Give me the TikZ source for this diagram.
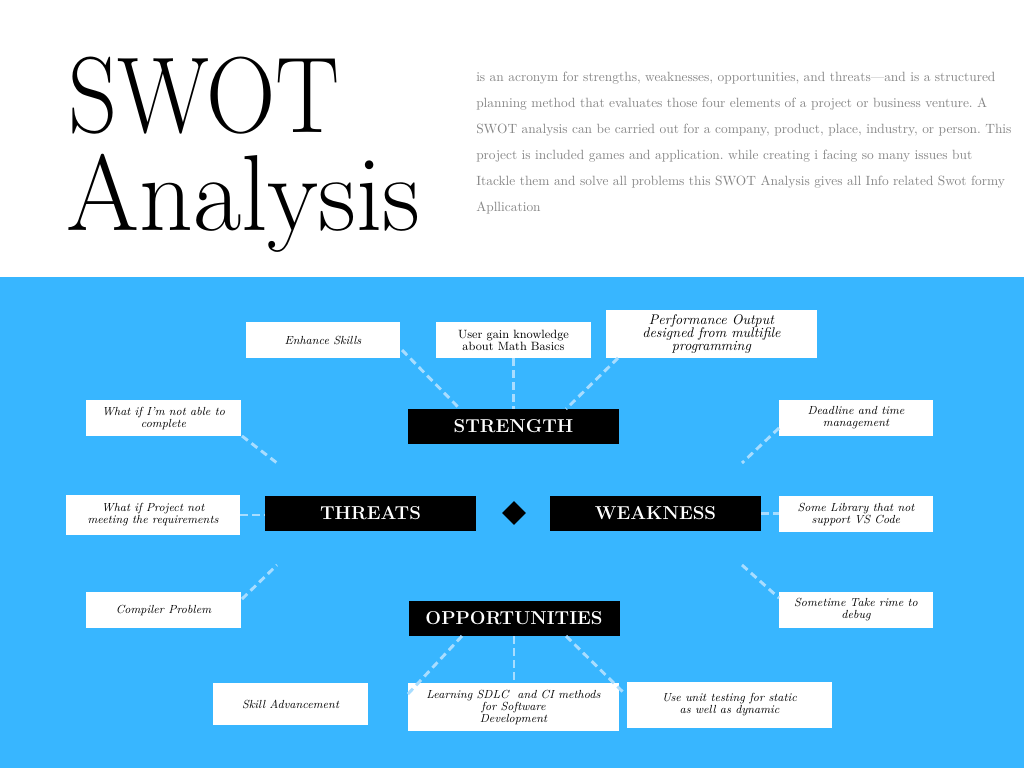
\documentclass[tikz,border=0pt]{standalone}
\usetikzlibrary{shapes.geometric}
\definecolor{skyblue}{HTML}{38B6FF}
\definecolor{dashblue}{HTML}{A8DDFF}
\definecolor{descgray}{HTML}{858585}
\begin{document}
\begin{tikzpicture}[x=0.75pt,y=-0.75pt,
  blackbox/.style={fill=black,text=white,inner sep=0pt,minimum width={211*0.75pt},minimum height={35*0.75pt},font=\bfseries\fontsize{14pt}{14pt}\selectfont},
  whitebox/.style={fill=white,inner sep=0pt,align=center,font=\itshape\fontsize{8.8pt}{9pt}\selectfont},
  conn/.style={draw=dashblue,line width=2.2pt,dash pattern=on 5.5pt off 3.5pt}]
\useasboundingbox (0,0) rectangle (1024,768);
\fill[white] (0,0) rectangle (1024,277);
\fill[skyblue] (0,277) rectangle (1024,768);

% title
\node[anchor=base west,inner sep=0pt] (t_swot) at (68,132) {\fontsize{81pt}{81pt}\selectfont\scalebox{0.89}[1]{SWOT}};
\node[anchor=base west,inner sep=0pt] (t_anal) at (66,230) {\fontsize{81pt}{81pt}\selectfont\scalebox{0.975}[1]{Analysis}};

% description
\node[anchor=north west,inner sep=0pt,align=left,text=descgray,font=\frenchspacing\fontsize{10.05pt}{19.5pt}\selectfont] (desc) at (476,72) {%
is an acronym for strengths, weaknesses, opportunities, and threats---and is a structured\\
planning method that evaluates those four elements of a project or business venture. A\\
SWOT analysis can be carried out for a company, product, place, industry, or person. This\\
project is included games and application. while creating i facing so many issues but\\
Itackle them and solve all problems this SWOT Analysis gives all Info related Swot formy\\
Apllication};

% main boxes
\node[blackbox] (st) at (513.5,426.5) {STRENGTH};
\node[blackbox] (th) at (370.5,513.5) {THREATS};
\node[blackbox] (wk) at (655.5,513.5) {WEAKNESS};
\node[blackbox] (op) at (514,618.5) {OPPORTUNITIES};
\node[diamond,fill=black,inner sep=0pt,minimum size={24*0.75pt}] (dm) at (514,513) {};

% white boxes
\node[whitebox,minimum width={154*0.75pt},minimum height={36*0.75pt}] (es) at (323,340) {Enhance Skills};
\node[whitebox,minimum width={155*0.75pt},minimum height={36*0.75pt},font=\fontsize{9pt}{9pt}\selectfont] (ug) at (513.5,340) {User gain knowledge\\about Math Basics};
\node[whitebox,minimum width={211*0.75pt},minimum height={48*0.75pt},font=\itshape\fontsize{10.5pt}{10pt}\selectfont] (po) at (711.5,334) {Performance Output\\designed from multifile\\programming};
\node[whitebox,minimum width={155*0.75pt},minimum height={36*0.75pt}] (t1) at (163.5,418) {What if I'm not able to\\complete};
\node[whitebox,minimum width={174*0.75pt},minimum height={40*0.75pt}] (t2) at (153,515) {What if Project not\\meeting the requirements};
\node[whitebox,minimum width={155*0.75pt},minimum height={36*0.75pt}] (t3) at (163.5,610) {Compiler Problem};
\node[whitebox,minimum width={154*0.75pt},minimum height={36*0.75pt}] (w1) at (856,418) {Deadline and time\\management};
\node[whitebox,minimum width={154*0.75pt},minimum height={36*0.75pt}] (w2) at (856,514) {Some Library that not\\support VS Code};
\node[whitebox,minimum width={154*0.75pt},minimum height={36*0.75pt}] (w3) at (856,610) {Sometime Take rime to\\debug};
\node[whitebox,minimum width={155*0.75pt},minimum height={42*0.75pt}] (o1) at (290.5,704) {Skill Advancement};
\node[whitebox,minimum width={211*0.75pt},minimum height={48*0.75pt}] (o2) at (513.5,707) {Learning SDLC\ \ and CI methods\\for Software\\Development};
\node[whitebox,minimum width={205*0.75pt},minimum height={46*0.75pt}] (o3) at (729.5,705) {Use unit testing for static\\as well as dynamic};

% free ends of connectors
\coordinate (c1a) at (402,350); \coordinate (c1b) at (460,409);
\coordinate (c3a) at (618,358); \coordinate (c3b) at (566,409);
\coordinate (c4a) at (242,436); \coordinate (c4b) at (277,463);
\coordinate (c6a) at (242,599); \coordinate (c6b) at (277,565);
\coordinate (c7a) at (779,428); \coordinate (c7b) at (742,463);
\coordinate (c9a) at (742,565); \coordinate (c9b) at (779,598);
\coordinate (c10a) at (462,636); \coordinate (c10b) at (407,695);
\coordinate (c12a) at (566,636); \coordinate (c12b) at (625,694);

% connectors
\draw[conn] (c1a) -- (c1b);
\draw[conn] (ug.south) -- (st.north);
\draw[conn] (c3a) -- (c3b);
\draw[conn] (c4a) -- (c4b);
\draw[conn] (t2.east) -- (t2.east -| th.west);
\draw[conn] (c6a) -- (c6b);
\draw[conn] (c7a) -- (c7b);
\draw[conn] (wk.east) -- (wk.east -| w2.west);
\draw[conn] (c9a) -- (c9b);
\draw[conn] (c10a) -- (c10b);
\draw[conn] (op.south) -- (op.south |- o2.north);
\draw[conn] (c12a) -- (c12b);
\end{tikzpicture}
\end{document}
